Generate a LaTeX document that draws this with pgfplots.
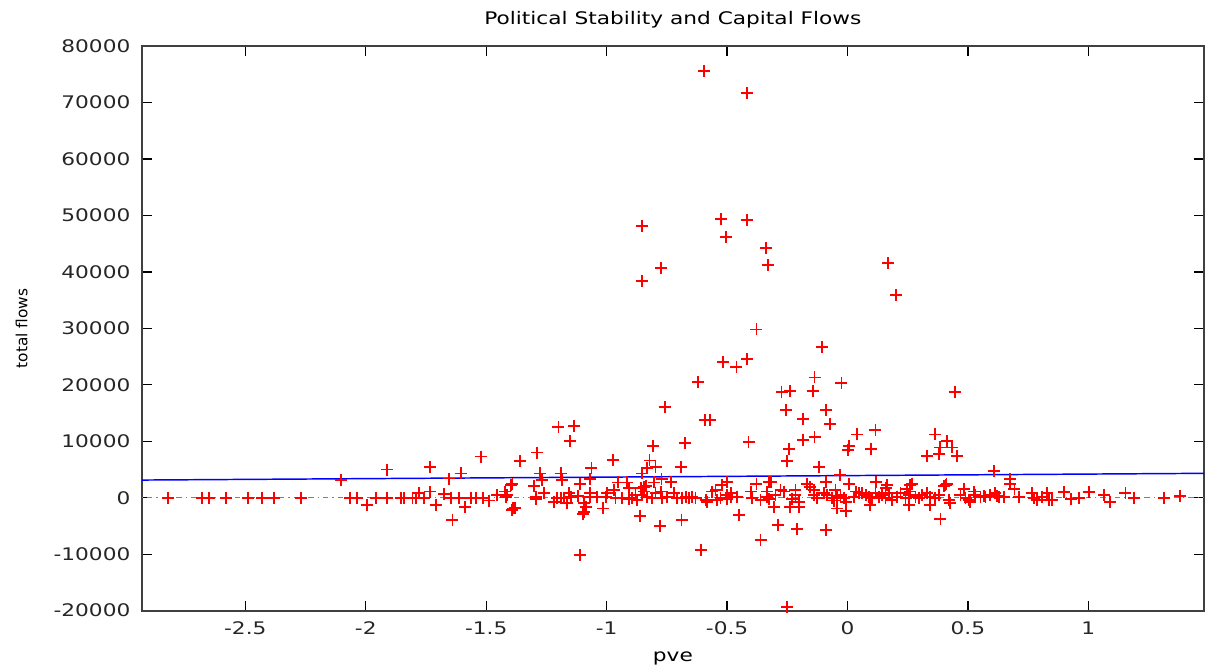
\documentclass[border=0pt]{standalone}
\usepackage{pgfplots}
\pgfplotsset{compat=1.18}
\usepackage{pgfplotstable}
\usepackage{fontspec}
\setmainfont[FakeStretch=1.25]{DejaVu Sans}
\newfontfamily\ylabfont{DejaVu Sans}
\pgfplotstableread{
x y
-0.596 75600
-0.419 71700
-0.852 48200
-0.524 49400
-0.419 49200
-0.506 46200
-0.339 44200
-0.773 40700
-0.329 41200
-0.852 38400
0.169 41500
0.202 35900
-0.378 29800
-0.105 26700
-0.516 24000
-0.461 23200
-0.416 24500
-0.620 20500
-0.137 21300
-0.274 18800
-0.239 18900
-0.145 18900
-0.025 20300
0.445 18700
-0.759 16000
-0.257 15500
-0.088 15500
-0.184 14000
-0.592 13800
-0.571 13800
-1.200 12600
-1.136 12700
-0.071 13000
0.116 12000
0.041 11200
-1.152 10000
-0.676 9700
-0.411 9800
-0.185 10300
-0.137 10700
-0.244 8700
0.007 9200
0.003 8400
0.097 8700
-0.806 9200
-1.361 6500
-1.288 8000
-0.974 6700
-0.822 6600
-0.834 5200
-0.797 5500
-0.693 5500
-0.250 6500
-0.119 5500
-1.063 5200
0.362 11200
0.414 10000
0.383 8900
0.434 8900
0.331 7400
0.379 7700
0.455 7400
0.607 4700
0.676 3300
0.676 2400
0.693 1500
-2.82 0
-2.68 0
-2.65 0
-2.58 0
-2.49 0
-2.43 0
-2.38 0
-2.27 0
-2.104 3100
-1.910 5000
-1.733 5500
-1.523 7300
-1.603 4300
-1.654 3400
-2.065 0
-2.035 0
-1.959 0
-1.910 0
-1.855 0
-1.841 0
-1.806 0
-1.793 0
-1.758 0
-1.647 0
-1.613 0
-1.564 0
-1.543 0
-1.513 0
-1.779 900
-1.733 1100
-1.675 600
-1.996 -1300
-1.710 -1300
-1.589 -1600
-1.640 -3900
-1.488 -500
-1.454 500
-0.852 4300
-1.278 4300
-1.191 4300
-1.184 3100
-1.069 3300
-1.267 3100
-1.391 2400
-1.302 2100
-1.112 2400
-0.953 2700
-0.914 2700
-0.907 1700
-0.859 1700
-0.845 1900
-0.838 2100
-0.804 2700
-0.772 3300
-0.732 2800
-1.423 1100
-1.419 200
-1.412 500
-1.387 -1900
-1.394 -2100
-1.380 -1800
-1.295 200
-1.295 -300
-1.260 800
-1.219 -700
-1.205 0
-1.191 0
-1.178 0
-1.166 -1000
-1.156 800
-1.149 200
-1.119 300
-1.094 -1000
-1.087 -1600
-1.094 -2500
-1.097 -2900
-1.069 800
-1.069 200
-1.039 200
-1.014 -1900
-1.004 200
-0.997 800
-0.969 1400
-0.963 0
-0.935 0
-0.907 -200
-0.893 0
-0.880 500
-0.873 -400
-0.852 500
-0.845 1100
-0.831 200
-0.810 0
-0.797 800
-0.776 1100
-0.769 0
-0.748 200
-0.720 800
-0.707 0
-0.862 -3200
-0.779 -5000
-1.112 -10100
-0.689 -3900
-1.398 2200
-0.032 4100
-0.499 2800
-0.378 2500
-0.326 2800
-0.317 2800
-0.167 2500
-0.154 1900
-0.088 2800
0.005 2400
-0.561 1100
-0.548 1400
-0.520 2200
-0.485 800
-0.499 500
-0.402 1100
-0.336 1100
-0.278 1400
-0.264 1100
-0.216 1400
-0.140 1400
-0.098 900
-0.050 1400
0.037 1100
-0.686 0
-0.672 200
-0.658 0
-0.645 200
-0.631 0
-0.589 -400
-0.582 -700
-0.541 -400
-0.527 0
-0.499 -200
-0.485 200
-0.458 200
-0.395 0
-0.361 -400
-0.333 100
-0.326 -300
-0.299 500
-0.306 -1600
-0.237 -1600
-0.229 -300
-0.202 -700
-0.202 -1600
-0.216 500
-0.140 500
-0.126 0
-0.084 500
-0.063 0
-0.057 -500
-0.043 200
-0.029 500
-0.015 0
-0.008 -700
-0.043 -1900
-0.005 -2400
0.026 200
0.047 800
-0.451 -3100
-0.289 -4800
-0.209 -5600
-0.088 -5700
-0.361 -7500
-0.610 -9300
-0.250 -19300
0.120 2800
0.165 2200
0.158 1700
0.261 2200
0.268 2500
0.248 1500
0.407 2200
0.411 2500
0.400 2100
0.483 1500
0.525 1100
0.061 800
0.075 500
0.088 200
0.102 -100
0.116 800
0.130 200
0.144 500
0.158 -100
0.171 800
0.185 -400
0.206 200
0.220 800
0.241 -100
0.254 500
0.261 1100
0.282 200
0.296 -100
0.310 500
0.331 800
0.344 200
0.365 -100
0.379 500
0.095 -1300
0.254 -1300
0.344 -1300
0.421 -400
0.427 -1000
0.386 -3800
0.469 500
0.490 -100
0.510 -700
0.531 500
0.552 100
0.573 200
0.593 500
0.614 800
0.628 200
0.649 200
0.711 200
0.766 800
0.773 0
0.787 -400
0.808 200
0.829 800
0.835 -400
0.849 -400
0.898 1000
0.928 -300
0.960 -100
1.001 1000
1.066 500
1.091 -700
1.154 900
1.188 0
1.313 0
1.382 300
0.503 -400
0.566 300
0.621 300
}\pts
\begin{document}
\begin{tikzpicture}
\useasboundingbox (-106.3pt,-43pt) rectangle (799.7pt,458pt);
\begin{axis}[
  scale only axis, width=796.7pt, height=423.5pt,
  at={(0pt,0pt)}, anchor=south west,
  xmin=-2.93, xmax=1.48, ymin=-20000, ymax=80000,
  xtick={-2.5,-2,-1.5,-1,-0.5,0,0.5,1},
  xticklabels={-2.5,-2,-1.5,-1,-0.5,0,0.5,1},
  ytick={-20000,-10000,0,10000,20000,30000,40000,50000,60000,70000,80000},
  yticklabels={-20000,-10000,0,10000,20000,30000,40000,50000,60000,70000,80000},
  scaled ticks=false,
  tick align=inside,
  major tick length=7.5pt,
  axis line style={draw=black!75, line width=1.4pt},
  tick style={black, line width=1pt},
  ticklabel style={font=\fontsize{13pt}{15pt}\selectfont, text=black!85},
  xticklabel style={yshift=-5pt},
  yticklabel style={xshift=-5pt},
  title={Political Stability and Capital Flows},
  title style={font=\fontsize{13pt}{15pt}\selectfont, at={([yshift=14pt]axis description cs:0.5,1)}, anchor=center},
  xlabel={pve},
  xlabel style={font=\fontsize{13pt}{15pt}\selectfont, at={([yshift=-36pt]axis description cs:0.5,0)}, anchor=center},
  ylabel={total flows},
  ylabel style={font=\ylabfont\fontsize{11.5pt}{13pt}\selectfont, at={([xshift=-90pt]axis description cs:0,0.5)}, anchor=center, rotate=0},
]
\addplot[gray, line width=0.7pt, dash pattern=on 1pt off 3pt on 4pt off 3pt] coordinates {(-2.93,0) (1.48,0)};
\addplot[only marks, mark=+, mark size=4.5pt, draw=red, mark options={draw=red, fill=red, line width=1.4pt, solid}] table[x=x, y=y] {\pts};
\addplot[blue, line width=1.1pt] coordinates {(-2.93,3130) (1.48,4320)};
\end{axis}
\end{tikzpicture}
\end{document}
